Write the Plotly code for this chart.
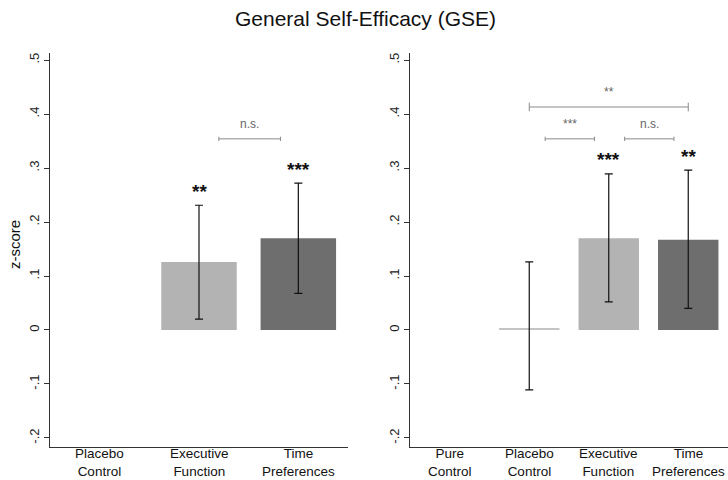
import plotly.graph_objects as go

# ---------------- data ----------------
title = "General Self-Efficacy (GSE)"
y_title = "z-score"

left_categories = ["Placebo<br>Control", "Executive<br>Function", "Time<br>Preferences"]
left_values = [None, 0.126, 0.170]
left_err_upper = [None, 0.231, 0.272]
left_err_lower = [None, 0.020, 0.068]
left_stars = ["", "**", "***"]

right_categories = ["Pure<br>Control", "Placebo<br>Control", "Executive<br>Function", "Time<br>Preferences"]
right_values = [None, 0.003, 0.170, 0.167]
right_err_upper = [None, 0.126, 0.289, 0.296]
right_err_lower = [None, -0.111, 0.052, 0.040]
right_stars = ["", "", "***", "**"]

# brackets: (from category index, to category index, height, label, long?)
left_brackets = [(1, 2, 0.354, "n.s.", False)]
right_brackets = [(1, 3, 0.413, "**", True),
                  (1, 2, 0.354, "***", False),
                  (2, 3, 0.354, "n.s.", False)]

tick_vals = [-0.2, -0.1, 0, 0.1, 0.2, 0.3, 0.4, 0.5]
tick_text = ["-.2", "-.1", "0", ".1", ".2", ".3", ".4", ".5"]

bar_colors_left = ["#b5b5b5", "#b3b3b3", "#6e6e6e"]
bar_colors_right = ["#b5b5b5", "#c4c4c4", "#b3b3b3", "#6e6e6e"]

W, H = 728, 480
FONT = "Liberation Sans, Arial, Helvetica, sans-serif"

fig = go.Figure()


def add_panel(cats, vals, up, lo, colors, xa, ya):
    xs = list(range(1, len(cats) + 1))
    plus = [None if v is None else u - v for v, u in zip(vals, up)]
    minus = [None if v is None else v - l for v, l in zip(vals, lo)]
    fig.add_trace(go.Bar(
        x=xs, y=vals, width=0.76, marker=dict(color=colors, line=dict(width=0)),
        error_y=dict(type="data", symmetric=False, array=plus, arrayminus=minus,
                     color="#111111", thickness=1.2, width=4),
        xaxis=xa, yaxis=ya, showlegend=False, hoverinfo="skip"))


add_panel(left_categories, left_values, left_err_upper, left_err_lower, bar_colors_left, "x", "y")
add_panel(right_categories, right_values, right_err_upper, right_err_lower, bar_colors_right, "x2", "y2")

ydom = [1 - 447 / H, 1 - 53 / H]
yrange = [-0.2167, 0.513]
axis_common = dict(showline=True, linecolor="#333333", linewidth=1, showgrid=False,
                   zeroline=False, mirror=False)
yaxis_common = dict(axis_common, range=yrange, domain=ydom, tickmode="array",
                    tickvals=tick_vals, ticktext=tick_text, tickangle=-90,
                    ticks="outside", ticklen=5, tickcolor="#333333",
                    tickfont=dict(family=FONT, size=13, color="#222222"))
xaxis_common = dict(axis_common, ticks="", showticklabels=False)

fig.update_layout(
    width=W, height=H, margin=dict(l=0, r=0, t=0, b=0),
    paper_bgcolor="white", plot_bgcolor="white",
    font=dict(family=FONT),
    xaxis=dict(xaxis_common, domain=[50 / W, 348 / W], range=[0.5, 3.5], anchor="y"),
    yaxis=dict(yaxis_common, anchor="x"),
    xaxis2=dict(xaxis_common, domain=[410 / W, 1.0], range=[0.5, 4.5], anchor="y2"),
    yaxis2=dict(yaxis_common, anchor="x2"),
)

annotations = [
    dict(text=title, x=365 / W, y=1 - 19 / H, xref="paper", yref="paper",
         showarrow=False, font=dict(family=FONT, size=21, color="#111111"),
         xanchor="center", yanchor="middle"),
    dict(text=y_title, x=15 / W, y=1 - 245 / H, xref="paper", yref="paper",
         showarrow=False, textangle=-90, font=dict(family=FONT, size=15, color="#111111"),
         xanchor="center", yanchor="middle"),
]
shapes = []


def add_cat_labels(cats, xa):
    for i, lab in enumerate(cats):
        annotations.append(dict(text=lab, x=i + 1, y=0, xref=xa, yref="paper",
                                showarrow=False, borderpad=0,
                                font=dict(family=FONT, size=13.5, color="#111111"),
                                xanchor="center", yanchor="bottom"))


def add_stars(stars, up, xa, ya):
    for i, (s, u) in enumerate(zip(stars, up)):
        if s:
            annotations.append(dict(text="<b>" + s + "</b>", x=i + 1, y=u + 0.026,
                                    xref=xa, yref=ya, showarrow=False,
                                    font=dict(family=FONT, size=19, color="#111111"),
                                    xanchor="center", yanchor="middle"))


def add_brackets(brs, xa, ya):
    for a, b, h, lab, long in brs:
        if long:
            x0, x1 = a + 1, b + 1
            tick = 0.008
        else:
            x0, x1 = a + 1 + 0.2, b + 1 - 0.18
            tick = 0.004
        for xx in (x0, x1):
            shapes.append(dict(type="line", x0=xx, x1=xx, y0=h - tick, y1=h + tick,
                               xref=xa, yref=ya, line=dict(color="#8a8a8a", width=1)))
        shapes.append(dict(type="line", x0=x0, x1=x1, y0=h, y1=h, xref=xa, yref=ya,
                           line=dict(color="#8a8a8a", width=1)))
        annotations.append(dict(text=lab, x=(x0 + x1) / 2, y=h + 0.027, xref=xa, yref=ya,
                                showarrow=False, font=dict(family=FONT, size=12, color="#666666"),
                                xanchor="center", yanchor="middle"))


add_cat_labels(left_categories, "x")
add_cat_labels(right_categories, "x2")
add_stars(left_stars, left_err_upper, "x", "y")
add_stars(right_stars, right_err_upper, "x2", "y2")
add_brackets(left_brackets, "x", "y")
add_brackets(right_brackets, "x2", "y2")

fig.update_layout(annotations=annotations, shapes=shapes)
fig.write_html("out.html")
